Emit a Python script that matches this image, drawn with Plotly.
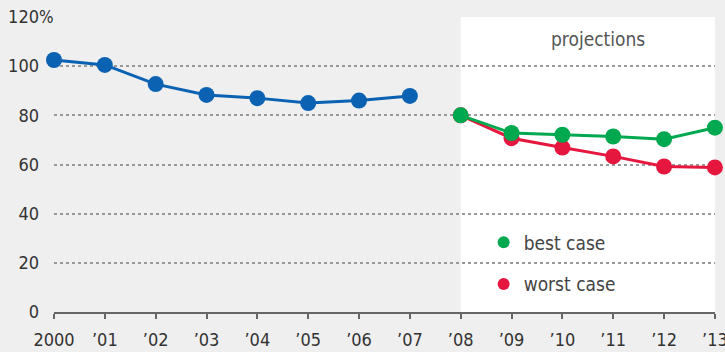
import plotly.graph_objects as go

years_hist = [2000, 2001, 2002, 2003, 2004, 2005, 2006, 2007]
hist_vals = [102.5, 100.5, 92.7, 88.3, 87.0, 85.0, 86.0, 87.9]

years_proj = [2008, 2009, 2010, 2011, 2012, 2013]
best_vals = [80.0, 72.8, 72.1, 71.4, 70.3, 75.0]
worst_vals = [80.0, 70.7, 66.9, 63.3, 59.2, 58.8]

x_tickvals = list(range(2000, 2014))
x_ticktext = ["2000", "’01", "’02", "’03", "’04", "’05", "’06", "’07",
              "’08", "’09", "’10", "’11", "’12", "’13"]
y_tickvals = [0, 20, 40, 60, 80, 100, 120]
y_ticktext = ["0", "20", "40", "60", "80", "100", "120"]

BLUE = "#0b62b3"
GREEN = "#00a84f"
RED = "#e5173f"
FONT = "DejaVu Sans Condensed, Liberation Sans Narrow, sans-serif"

fig = go.Figure()

fig.add_shape(type="rect", xref="x", yref="y", x0=2008, x1=2013.04, y0=0, y1=120,
              fillcolor="white", line=dict(width=0), layer="below")

fig.add_trace(go.Scatter(x=years_hist, y=hist_vals, mode="lines+markers",
                         line=dict(color=BLUE, width=3),
                         marker=dict(color=BLUE, size=16), showlegend=False,
                         cliponaxis=False))
fig.add_trace(go.Scatter(x=years_proj, y=worst_vals, mode="lines+markers",
                         line=dict(color=RED, width=3),
                         marker=dict(color=RED, size=16), showlegend=False,
                         cliponaxis=False))
fig.add_trace(go.Scatter(x=years_proj, y=best_vals, mode="lines+markers",
                         line=dict(color=GREEN, width=3),
                         marker=dict(color=GREEN, size=16), showlegend=False,
                         cliponaxis=False))
# legend-only entries
fig.add_trace(go.Scatter(x=[None], y=[None], mode="markers", name="best case",
                         legendgroup="b", marker=dict(color=GREEN, size=16)))
fig.add_trace(go.Scatter(x=[None], y=[None], mode="markers", name="worst case",
                         legendgroup="w", marker=dict(color=RED, size=16)))

fig.add_annotation(x=2010.7, y=111, xref="x", yref="y", text="projections",
                   showarrow=False, font=dict(size=19, color="#555555", family=FONT))
fig.add_annotation(x=0, y=120, xref="paper", yref="y", xanchor="left", xshift=-17,
                   text="%", showarrow=False, font=dict(size=17, color="#333333", family=FONT))

fig.update_layout(
    width=725, height=352,
    margin=dict(l=54, r=10, t=17, b=40),
    paper_bgcolor="#efefef", plot_bgcolor="#efefef",
    font=dict(family=FONT, size=18, color="#333333"),
    legend=dict(x=0.65, y=0.30, xanchor="left", yanchor="top",
                bgcolor="rgba(0,0,0,0)", font=dict(size=19, color="#444444"),
                itemsizing="constant", tracegroupgap=14),
    xaxis=dict(range=[2000, 2013.002], tickvals=x_tickvals, ticktext=x_ticktext,
               showgrid=False, zeroline=False, showline=True, linecolor="#666666",
               linewidth=2, ticks="outside", ticklen=5, tickcolor="#666666",
               tickwidth=2, ticklabelstandoff=5, automargin=False,
               ticklabeloverflow="allow"),
    yaxis=dict(range=[0, 120], tickvals=y_tickvals, ticktext=y_ticktext,
               showgrid=True, gridcolor="#999999", griddash="dot", gridwidth=1.5,
               zeroline=False, showline=False, ticks="", ticklabelstandoff=14,
               automargin=False),
)

fig.write_html("out.html")
